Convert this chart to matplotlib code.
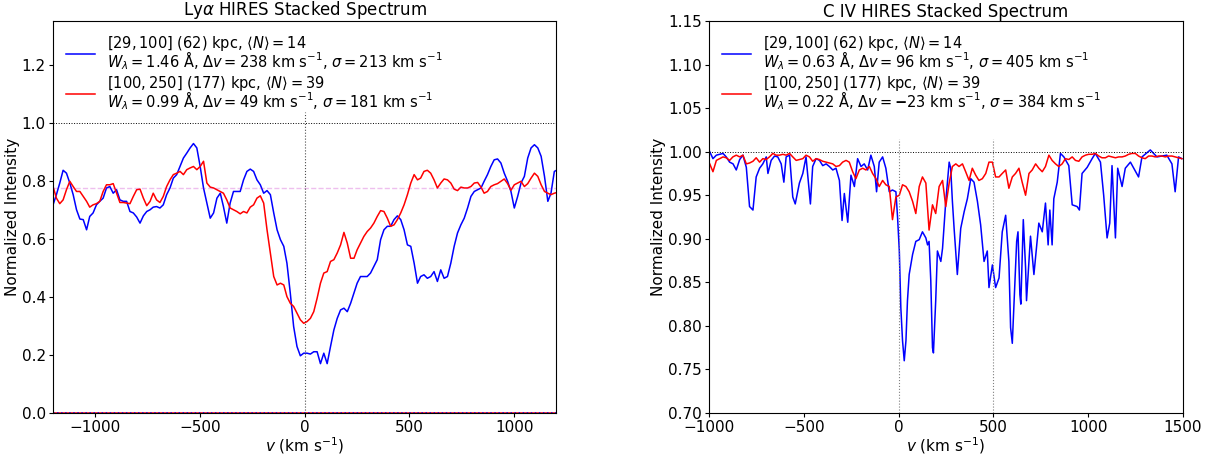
import matplotlib
matplotlib.use('Agg')
from matplotlib import pyplot as plt

# Lya panel: velocity grid (km/s) and stacked flux for the two impact-parameter bins
lya_vel = [-1200, -1184, -1168, -1152, -1136, -1120, -1104, -1088, -1072, -1056,
           -1040, -1025, -1009, -993, -977, -961, -945, -929, -913, -897,
           -881, -865, -849, -833, -817, -801, -785, -769, -753, -737,
           -722, -706, -690, -674, -658, -642, -626, -610, -594, -578,
           -562, -546, -530, -514, -498, -482, -466, -450, -434, -418,
           -402, -387, -371, -355, -339, -323, -307, -291, -275, -259,
           -243, -227, -211, -195, -179, -163, -147, -131, -115, -99,
           -84, -68, -52, -36, -20, -4, 12, 28, 44, 60,
           76, 92, 108, 124, 140, 156, 172, 188, 204, 220,
           236, 251, 267, 283, 299, 315, 331, 347, 363, 379,
           395, 411, 427, 443, 459, 475, 491, 507, 523, 539,
           554, 570, 586, 602, 618, 634, 650, 666, 682, 698,
           714, 730, 746, 762, 778, 794, 810, 826, 842, 857,
           873, 889, 905, 921, 937, 953, 969, 985, 1001, 1017,
           1033, 1049, 1065, 1081, 1097, 1113, 1129, 1145, 1161, 1176,
           1192, 1208]
lya_blue = [0.717, 0.752, 0.792, 0.836, 0.826, 0.792, 0.752, 0.700, 0.668, 0.666,
            0.631, 0.677, 0.689, 0.717, 0.729, 0.740, 0.775, 0.780, 0.757, 0.769,
            0.734, 0.729, 0.729, 0.694, 0.689, 0.675, 0.654, 0.679, 0.694, 0.700,
            0.709, 0.711, 0.706, 0.717, 0.752, 0.775, 0.809, 0.821, 0.849, 0.878,
            0.895, 0.913, 0.928, 0.913, 0.849, 0.775, 0.723, 0.671, 0.689, 0.740,
            0.757, 0.711, 0.654, 0.723, 0.763, 0.763, 0.763, 0.803, 0.832, 0.840,
            0.832, 0.803, 0.786, 0.757, 0.766, 0.752, 0.689, 0.631, 0.597, 0.574,
            0.516, 0.413, 0.298, 0.229, 0.197, 0.206, 0.206, 0.203, 0.211, 0.211,
            0.170, 0.206, 0.170, 0.229, 0.286, 0.326, 0.355, 0.361, 0.349, 0.378,
            0.413, 0.447, 0.470, 0.470, 0.470, 0.482, 0.505, 0.528, 0.597, 0.631,
            0.643, 0.643, 0.666, 0.679, 0.666, 0.631, 0.579, 0.574, 0.516, 0.447,
            0.470, 0.476, 0.464, 0.470, 0.487, 0.453, 0.493, 0.464, 0.470, 0.516,
            0.574, 0.620, 0.648, 0.671, 0.706, 0.746, 0.763, 0.769, 0.775, 0.798,
            0.821, 0.849, 0.872, 0.875, 0.861, 0.826, 0.798, 0.763, 0.706, 0.746,
            0.792, 0.815, 0.878, 0.913, 0.924, 0.913, 0.884, 0.815, 0.729, 0.757,
            0.832, 0.838]
lya_red = [0.780, 0.740, 0.721, 0.734, 0.769, 0.798, 0.780, 0.763, 0.763, 0.746,
           0.729, 0.709, 0.717, 0.721, 0.729, 0.763, 0.786, 0.786, 0.790, 0.757,
           0.725, 0.725, 0.723, 0.721, 0.746, 0.769, 0.771, 0.740, 0.714, 0.729,
           0.757, 0.734, 0.725, 0.746, 0.780, 0.803, 0.821, 0.826, 0.832, 0.821,
           0.838, 0.844, 0.849, 0.838, 0.849, 0.867, 0.792, 0.778, 0.775, 0.769,
           0.763, 0.757, 0.734, 0.706, 0.700, 0.694, 0.686, 0.694, 0.689, 0.709,
           0.717, 0.740, 0.748, 0.723, 0.631, 0.551, 0.470, 0.441, 0.447, 0.441,
           0.401, 0.378, 0.367, 0.344, 0.321, 0.309, 0.315, 0.326, 0.349, 0.395,
           0.447, 0.482, 0.487, 0.522, 0.528, 0.551, 0.579, 0.622, 0.585, 0.533,
           0.533, 0.562, 0.585, 0.608, 0.625, 0.637, 0.654, 0.677, 0.697, 0.694,
           0.671, 0.643, 0.648, 0.666, 0.689, 0.717, 0.752, 0.792, 0.821, 0.803,
           0.809, 0.832, 0.836, 0.826, 0.803, 0.775, 0.792, 0.806, 0.803, 0.792,
           0.771, 0.766, 0.778, 0.775, 0.775, 0.780, 0.792, 0.794, 0.778, 0.757,
           0.763, 0.780, 0.786, 0.790, 0.798, 0.806, 0.790, 0.767, 0.786, 0.792,
           0.798, 0.780, 0.790, 0.809, 0.826, 0.815, 0.786, 0.763, 0.757, 0.752,
           0.757, 0.760]
lya_err = [0.0] * len(lya_vel)
lya_cont = 0.775  # mean flux level (pink dashed line)

# C IV panel
civ_blue_vel = [-996, -979, -961, -944, -926, -909, -891, -873, -856, -838,
                -821, -803, -786, -768, -751, -733, -716, -698, -689, -672,
                -654, -637, -619, -605, -593, -575, -558, -545, -523, -505,
                -488, -465, -453, -435, -417, -400, -382, -365, -347, -330,
                -312, -298, -286, -268, -251, -233, -216, -198, -181, -163,
                -146, -128, -116, -102, -84, -67, -49, -32, -14, -5,
                4, 12, 21, 30, 39, 47, 56, 74, 91, 109,
                126, 144, 153, 161, 170, 179, 184, 196, 205, 223,
                232, 249, 267, 275, 284, 293, 310, 328, 346, 363,
                381, 398, 416, 433, 451, 468, 477, 495, 512, 530,
                547, 565, 582, 591, 600, 614, 623, 630, 640, 645,
                658, 670, 675, 696, 714, 740, 758, 775, 789, 798,
                810, 819, 837, 854, 872, 898, 916, 942, 954, 968,
                995, 1021, 1038, 1065, 1082, 1100, 1114, 1126, 1144, 1156,
                1179, 1196, 1223, 1266, 1284, 1328, 1363, 1415, 1442, 1459,
                1477, 1494]
civ_blue = [1.000, 0.992, 0.996, 0.997, 0.998, 0.994, 0.988, 0.986, 0.979, 0.991,
            0.996, 0.982, 0.937, 0.933, 0.971, 0.981, 0.986, 0.994, 0.975, 0.990,
            0.995, 0.994, 0.986, 0.965, 0.994, 0.996, 0.948, 0.940, 0.964, 0.975,
            0.994, 0.940, 0.983, 0.992, 0.990, 0.984, 0.986, 0.983, 0.979, 0.981,
            0.967, 0.921, 0.952, 0.919, 0.973, 0.960, 0.992, 0.983, 0.986, 0.979,
            0.996, 0.983, 0.954, 0.988, 0.994, 0.981, 0.954, 0.956, 0.954, 0.924,
            0.886, 0.821, 0.783, 0.760, 0.783, 0.829, 0.859, 0.882, 0.897, 0.899,
            0.908, 0.901, 0.893, 0.897, 0.852, 0.775, 0.769, 0.829, 0.886, 0.874,
            0.889, 0.943, 0.988, 0.981, 0.943, 0.912, 0.859, 0.912, 0.931, 0.946,
            0.969, 0.965, 0.943, 0.916, 0.874, 0.886, 0.844, 0.870, 0.844, 0.855,
            0.908, 0.927, 0.874, 0.798, 0.780, 0.853, 0.897, 0.908, 0.836, 0.825,
            0.922, 0.867, 0.829, 0.903, 0.859, 0.918, 0.908, 0.941, 0.893, 0.933,
            0.893, 0.946, 0.965, 0.998, 0.994, 0.984, 0.939, 0.937, 0.933, 0.975,
            0.982, 0.992, 0.998, 0.988, 0.950, 0.901, 0.918, 0.984, 0.901, 0.981,
            0.960, 0.981, 0.988, 0.971, 0.994, 1.002, 0.994, 0.996, 0.986, 0.954,
            0.994, 0.992]
civ_red_vel = [-996, -979, -961, -944, -926, -909, -891, -874, -856, -838,
               -821, -803, -786, -768, -751, -733, -716, -698, -681, -663,
               -646, -628, -610, -593, -575, -558, -540, -523, -505, -488,
               -470, -453, -435, -418, -400, -382, -365, -347, -330, -312,
               -295, -277, -260, -242, -225, -207, -189, -172, -154, -137,
               -119, -102, -84, -67, -49, -32, -14, 4, 21, 39,
               56, 74, 91, 109, 126, 144, 161, 179, 196, 214,
               232, 249, 267, 284, 302, 319, 337, 354, 372, 389,
               407, 424, 442, 460, 477, 495, 512, 530, 547, 565,
               582, 600, 617, 635, 652, 670, 688, 705, 723, 740,
               758, 775, 793, 810, 828, 845, 863, 880, 898, 916,
               933, 951, 968, 986, 1003, 1021, 1038, 1056, 1073, 1091,
               1108, 1126, 1144, 1161, 1179, 1196, 1214, 1231, 1249, 1266,
               1284, 1301, 1319, 1337, 1354, 1372, 1389, 1407, 1424, 1442,
               1459, 1477, 1494]
civ_red = [0.986, 0.977, 0.990, 0.992, 0.994, 0.993, 0.990, 0.994, 0.996, 0.994,
           0.996, 0.986, 0.987, 0.989, 0.993, 0.988, 0.992, 0.991, 0.994, 0.998,
           0.996, 0.996, 0.997, 0.996, 0.998, 0.994, 0.990, 0.991, 0.992, 0.996,
           0.994, 0.989, 0.992, 0.991, 0.989, 0.988, 0.987, 0.986, 0.983, 0.984,
           0.988, 0.990, 0.988, 0.977, 0.969, 0.979, 0.981, 0.979, 0.983, 0.975,
           0.969, 0.960, 0.967, 0.962, 0.960, 0.922, 0.948, 0.950, 0.962, 0.960,
           0.954, 0.943, 0.929, 0.960, 0.971, 0.964, 0.910, 0.939, 0.929, 0.960,
           0.967, 0.937, 0.964, 0.983, 0.986, 0.983, 0.986, 0.977, 0.967, 0.981,
           0.973, 0.967, 0.969, 0.975, 0.988, 0.988, 0.971, 0.971, 0.975, 0.979,
           0.958, 0.971, 0.975, 0.981, 0.965, 0.950, 0.975, 0.979, 0.986, 0.981,
           0.977, 0.983, 0.996, 0.990, 0.986, 0.983, 0.986, 0.992, 0.991, 0.994,
           0.990, 0.989, 0.994, 0.996, 0.997, 0.997, 0.998, 0.995, 0.993, 0.993,
           0.995, 0.994, 0.993, 0.994, 0.994, 0.995, 0.997, 0.998, 0.998, 0.995,
           0.993, 0.992, 0.995, 0.995, 0.994, 0.995, 0.995, 0.994, 0.995, 0.995,
           0.994, 0.993, 0.992]

# legend labels
lya_labels = [r'$[29, 100]$ (62) kpc, $\langle N \rangle = 14$' + '\n'
              + r'$W_\lambda = 1.46$ Å, $\Delta v = 238$ km s$^{-1}$, $\sigma = 213$ km s$^{-1}$',
              r'$[100, 250]$ (177) kpc, $\langle N \rangle = 39$' + '\n'
              + r'$W_\lambda = 0.99$ Å, $\Delta v = 49$ km s$^{-1}$, $\sigma = 181$ km s$^{-1}$']
civ_labels = [r'$[29, 100]$ (62) kpc, $\langle N \rangle = 14$' + '\n'
              + r'$W_\lambda = 0.63$ Å, $\Delta v = 96$ km s$^{-1}$, $\sigma = 405$ km s$^{-1}$',
              r'$[100, 250]$ (177) kpc, $\langle N \rangle = 39$' + '\n'
              + r'$W_\lambda = 0.22$ Å, $\Delta v = \mathbf{-}23$ km s$^{-1}$, $\sigma = 384$ km s$^{-1}$']

plt.rcParams['font.size'] = 11
# short ticks, tight pads (the original looks like a 72 dpi render)
for ax_name in ('xtick', 'ytick'):
    plt.rcParams[ax_name + '.major.size'] = 2.6
    plt.rcParams[ax_name + '.major.pad'] = 2.6

fig = plt.figure(figsize=(12.14, 4.55), dpi=100)
ax1 = fig.add_axes([0.0437, 0.0923, 0.4143, 0.8615])
ax2 = fig.add_axes([0.5840, 0.0923, 0.3904, 0.8615])

# --- Lya ---
ax1.plot(lya_vel, lya_blue, color='blue', lw=1.1, label=lya_labels[0])
ax1.plot(lya_vel, lya_red, color='red', lw=1.1, label=lya_labels[1])
ax1.plot(lya_vel, lya_err, color='red', lw=1.1)
ax1.plot(lya_vel, lya_err, color='blue', lw=1.1, ls=':')
ax1.axhline(1.0, color='black', lw=0.7, ls=':')
ax1.axhline(lya_cont, color='m', lw=1.0, ls='--', alpha=0.25)
ax1.vlines(0, 0, 1.035, color='0.3', lw=0.8, ls=':')
ax1.set_xlim(-1200, 1200)
ax1.set_ylim(0, 1.35)
ax1.set_xticks([-1000, -500, 0, 500, 1000])
ax1.set_yticks([0.0, 0.2, 0.4, 0.6, 0.8, 1.0, 1.2])
ax1.set_title(r'Ly$\alpha$ HIRES Stacked Spectrum', fontsize=12, pad=1.5)
ax1.set_xlabel(r'$v$ (km s$^{-1}$)', labelpad=0)
ax1.set_ylabel('Normalized Intensity', labelpad=1)
leg1 = ax1.legend(loc='upper left', frameon=False, fontsize=10.5, labelspacing=0.15)
for t in leg1.get_texts():
    t.set_linespacing(0.78)

# --- C IV ---
ax2.plot(civ_blue_vel, civ_blue, color='blue', lw=1.1, label=civ_labels[0])
ax2.plot(civ_red_vel, civ_red, color='red', lw=1.1, label=civ_labels[1])
ax2.axhline(1.0, color='black', lw=0.7, ls=':')
ax2.vlines([0, 500], 0.70, 1.015, color='0.5', lw=0.8, ls=':')
ax2.set_xlim(-1000, 1500)
ax2.set_ylim(0.70, 1.15)
ax2.set_xticks([-1000, -500, 0, 500, 1000, 1500])
ax2.set_yticks([0.70, 0.75, 0.80, 0.85, 0.90, 0.95, 1.00, 1.05, 1.10, 1.15])
ax2.set_title('C IV HIRES Stacked Spectrum', fontsize=12, pad=1.5)
ax2.set_xlabel(r'$v$ (km s$^{-1}$)', labelpad=0)
ax2.set_ylabel('Normalized Intensity', labelpad=1)
leg2 = ax2.legend(loc='upper left', frameon=False, fontsize=10.5, labelspacing=0.15)
for t in leg2.get_texts():
    t.set_linespacing(0.78)

fig.savefig('out.png', dpi=100)
